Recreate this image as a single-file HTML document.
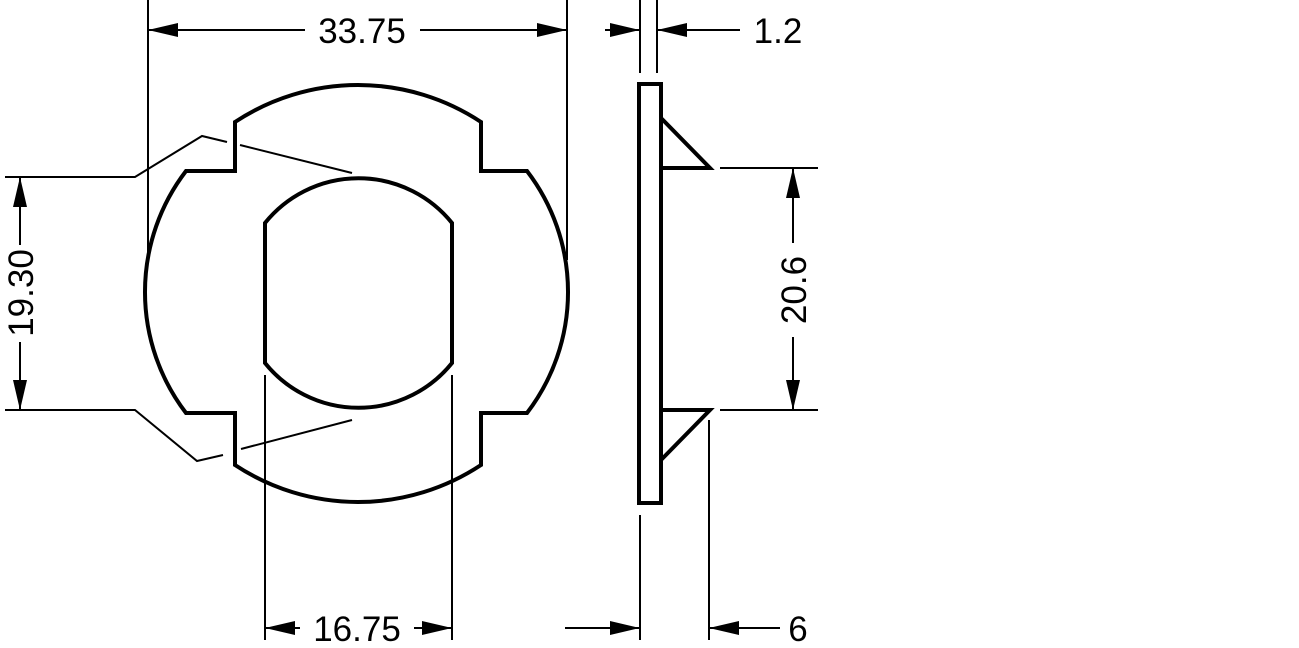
<!DOCTYPE html>
<html><head><meta charset="utf-8"><style>
html,body{margin:0;padding:0;background:#fff;}
svg{display:block;}
text{font-family:"Liberation Sans",Arial,sans-serif;font-size:35px;fill:#000;}
</style></head><body>
<svg width="1299" height="648" viewBox="0 0 1299 648" xmlns="http://www.w3.org/2000/svg">
<defs>
<marker id="a" viewBox="0 0 30 14" refX="30" refY="7" markerWidth="30" markerHeight="14" markerUnits="userSpaceOnUse" orient="auto"><path d="M0,0 L30,7 L0,14 Z" fill="#000"/></marker>
</defs>
<g fill="none" stroke="#000" stroke-width="4" stroke-linejoin="miter">
<path d="M235,122 A223,223 0 0 1 481,122 L481,171 L527,171 A199,199 0 0 1 527,413 L481,413 L481,465 A223,223 0 0 1 235,465 L235,413 L186,413 A199,199 0 0 1 186,171 L235,171 Z"/>
<path d="M265,223 A120,120 0 0 1 452,223 L452,363 A120,120 0 0 1 265,363 Z"/>
<rect x="639" y="84" width="22" height="419"/>
<path d="M661,118 L710,168 L661,168"/>
<path d="M661,460 L710,410 L661,410"/>
</g>
<g fill="none" stroke="#000" stroke-width="2">
<polyline points="5,177 135,177 202,136 227,142"/>
<line x1="240" y1="145" x2="352" y2="173"/>
<polyline points="5,410 135,410 197,461 223,455"/>
<line x1="241" y1="449" x2="352" y2="420"/>
<line x1="148" y1="0" x2="148" y2="255"/>
<line x1="567" y1="0" x2="567" y2="260"/>
<line x1="265" y1="375" x2="265" y2="640"/>
<line x1="452" y1="375" x2="452" y2="640"/>
<line x1="640" y1="0" x2="640" y2="73"/>
<line x1="657" y1="0" x2="657" y2="73"/>
<line x1="640" y1="515" x2="640" y2="640"/>
<line x1="709" y1="420" x2="709" y2="640"/>
<line x1="720" y1="168" x2="818" y2="168"/>
<line x1="720" y1="410" x2="818" y2="410"/>
<line x1="305" y1="30" x2="148" y2="30" marker-end="url(#a)"/>
<line x1="420" y1="30" x2="567" y2="30" marker-end="url(#a)"/>
<line x1="20" y1="245" x2="20" y2="177" marker-end="url(#a)"/>
<line x1="20" y1="342" x2="20" y2="410" marker-end="url(#a)"/>
<line x1="300" y1="628" x2="265" y2="628" marker-end="url(#a)"/>
<line x1="414" y1="628" x2="452" y2="628" marker-end="url(#a)"/>
<line x1="605" y1="30" x2="640" y2="30" marker-end="url(#a)"/>
<line x1="740" y1="30" x2="657" y2="30" marker-end="url(#a)"/>
<line x1="793" y1="243" x2="793" y2="168" marker-end="url(#a)"/>
<line x1="793" y1="337" x2="793" y2="410" marker-end="url(#a)"/>
<line x1="565" y1="628" x2="640" y2="628" marker-end="url(#a)"/>
<line x1="780" y1="628" x2="709" y2="628" marker-end="url(#a)"/>
</g>
<text x="362" y="43" text-anchor="middle">33.75</text>
<text x="357" y="641" text-anchor="middle">16.75</text>
<text x="778" y="43" text-anchor="middle">1.2</text>
<text x="798" y="641" text-anchor="middle">6</text>
<text transform="translate(33,293) rotate(-90)" text-anchor="middle">19.30</text>
<text transform="translate(806,290) rotate(-90)" text-anchor="middle">20.6</text>
</svg>
</body></html>
